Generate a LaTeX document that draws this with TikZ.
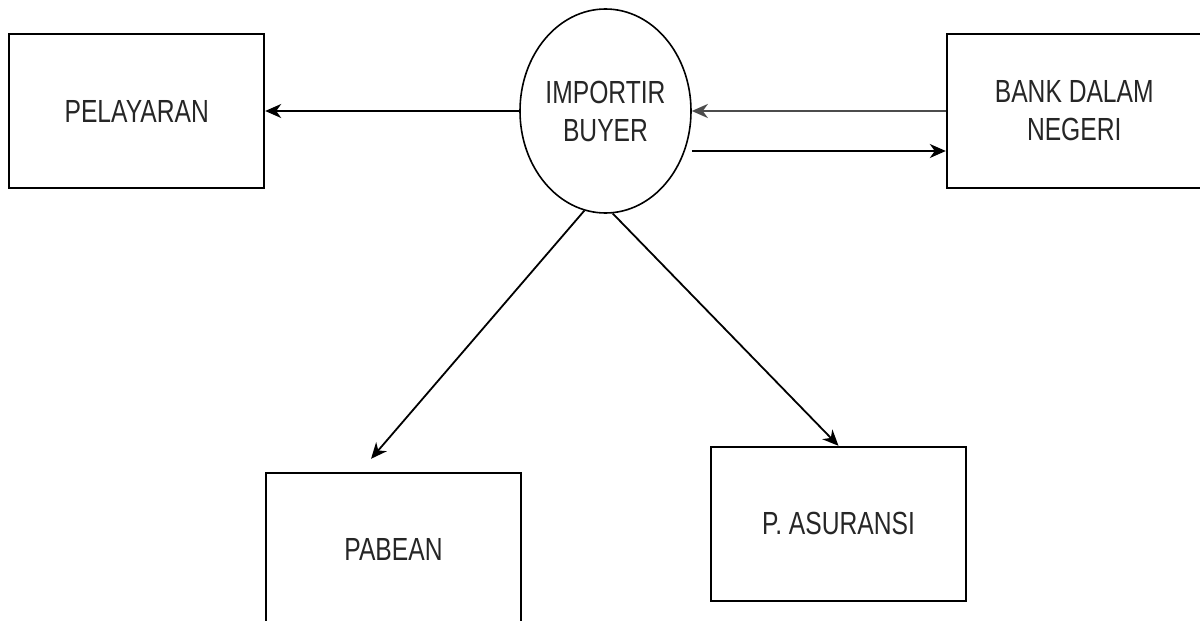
\documentclass[tikz,border=0pt]{standalone}
\usepackage{fontspec}
\setmainfont[FakeStretch=0.77]{Liberation Sans}
\usetikzlibrary{arrows.meta,positioning,shapes.geometric,calc}
\definecolor{dfdText}{HTML}{262626}
\tikzset{
  entity/.style={rectangle, draw=black, line width=1.9pt, fill=white, align=center, minimum width=255pt, minimum height=154pt, inner sep=0pt, font=\fontsize{32}{38}\selectfont, text=dfdText},
  process/.style={ellipse, draw=black, line width=1.6pt, fill=white, align=center, minimum width=171pt, minimum height=204pt, inner sep=0pt, font=\fontsize{32}{38}\selectfont, text=dfdText},
  arrow/.style={-{Stealth[length=16pt,width=14pt,inset=5pt]}, line width=1.8pt, draw=black}
}

\begin{document}
\begin{tikzpicture}
\useasboundingbox (0,0) rectangle (1200pt,-621pt);
\node[process] (buyer) at (605.5pt,-111pt) {IMPORTIR\\BUYER};
\node[entity, left=254pt of buyer] (pelayaran) {PELAYARAN};
\node[entity, right=254pt of buyer] (bank) {BANK DALAM\\NEGERI};
\node[entity, below=258pt of buyer, xshift=-212pt] (pabean) {PABEAN};
\node[entity, below=232pt of buyer, xshift=233pt] (asuransi) {P. ASURANSI};
\coordinate (pabeanin) at ($(pabean.north west)+(106pt,13pt)$);
\draw[arrow] (buyer.west) -- (pelayaran.east);
\draw[arrow, draw=black!70, line width=2.6pt] (bank.west) -- (buyer.east);
\draw[arrow] ([yshift=-40pt]buyer.east) -- ([yshift=-40pt]bank.west);
\draw[arrow] (buyer.258) -- (pabeanin);
\draw[arrow] (buyer.274) -- (asuransi.north);
\end{tikzpicture}
\end{document}
